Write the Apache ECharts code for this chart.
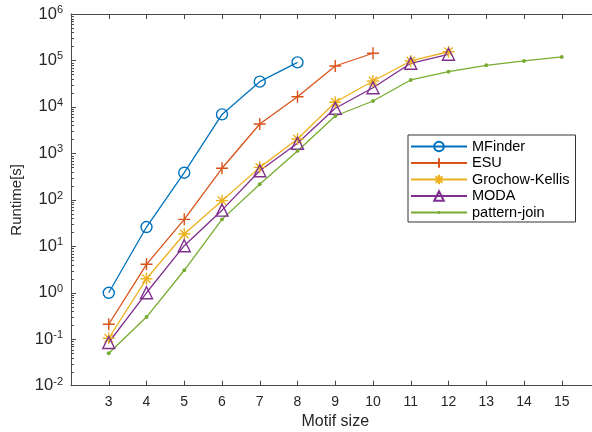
<!DOCTYPE html>
<html>
<head>
<meta charset="utf-8">
<script src="https://cdn.jsdelivr.net/npm/echarts@6/dist/echarts.min.js"></script>
<style>html,body{margin:0;padding:0;background:#fff;}#c{width:592px;height:432px;}</style>
</head>
<body>
<div id="c"></div>
<script>
const motifSizes = [3,4,5,6,7,8,9,10,11,12,13,14,15];
const mfinder = [1, 26, 384, 6900, 35000, 91000];
const esu = [0.21, 4.1, 38, 478, 4300, 16600, 76000, 143000];
const grochowKellis = [0.105, 2.0, 18.4, 96, 500, 2040, 12600, 36200, 97500, 154000];
const moda = [0.085, 1.0, 10.3, 60, 424, 1650, 9350, 25900, 87000, 136000];
const patternJoin = [0.05, 0.3, 3.05, 38, 216, 1130, 6380, 13400, 38000, 57400, 78700, 97500, 119000];
const seriesNames = ['MFinder','ESU','Grochow-Kellis','MODA','pattern-join'];
const xTickLabels = ['3','4','5','6','7','8','9','10','11','12','13','14','15'];
const yDecades = [-2,-1,0,1,2,3,4,5];
const minorSteps = [2,3,4,5,6,7,8,9];

const colors = ['#0072BD','#D95319','#EDB120','#7E2F8E','#77AC30'];
const axisColor = '#4a4a4a';
const textColor = '#262626';
const FONT = 'Liberation Sans, Arial, sans-serif';

function pairs(vals){ return vals.map((v,i)=>[motifSizes[i], v]); }
const minorTickValues = [];
yDecades.forEach(d => minorSteps.forEach(k => minorTickValues.push(k * Math.pow(10, d))));

const plusPath = 'path://M0,5L10,5M5,0L5,10';
const starPath = 'path://M0,5L10,5M5,0L5,10M1.5,1.5L8.5,8.5M1.5,8.5L8.5,1.5';
const dotPath = 'path://M0,0M10,10M3.5,5A1.5,1.5,0,1,0,6.5,5A1.5,1.5,0,1,0,3.5,5Z';

function mkSeries(name, vals, color, symbol, size, filled){
  return {
    name: name, type: 'line', data: pairs(vals),
    symbol: symbol, symbolSize: size, showAllSymbol: true,
    lineStyle: {color: color, width: 1.3},
    itemStyle: filled ? {color: color, borderWidth: 0} : {color: 'rgba(0,0,0,0)', borderColor: color, borderWidth: 1.4},
    emphasis: {disabled: true},
    z: 3
  };
}

const chart = echarts.init(document.getElementById('c'), null, {renderer: 'canvas'});
chart.setOption({
  animation: false,
  backgroundColor: '#fff',
  color: colors,
  grid: {left: 71, top: 14, right: -7.5, bottom: 46.3, outerBoundsMode: 'none', containLabel: false},
  legend: {
    orient: 'vertical', left: 408, top: 135,
    data: seriesNames,
    backgroundColor: '#fff', borderColor: '#333', borderWidth: 1,
    padding: [4, 6, 2, 2], itemGap: 1.5, itemWidth: 56, itemHeight: 12,
    textStyle: {fontFamily: FONT, fontSize: 14.5, color: '#000', lineHeight: 14, padding: [0,0,0,0]},
    selectedMode: false
  },
  xAxis: [{
    type: 'value', min: 2, max: 16, interval: 1, position: 'bottom',
    name: 'Motif size', nameLocation: 'middle', nameGap: 24,
    nameTextStyle: {fontFamily: FONT, fontSize: 16, color: textColor, verticalAlign: 'top'},
    axisLine: {show: true, onZero: false, lineStyle: {color: axisColor, width: 1}},
    axisTick: {show: true, inside: true, length: 5, lineStyle: {color: axisColor}},
    axisLabel: {margin: 9, fontFamily: FONT, fontSize: 14, color: textColor,
      formatter: v => { const i = motifSizes.indexOf(v); return i >= 0 ? xTickLabels[i] : ''; }},
    splitLine: {show: false}
  },{
    type: 'value', min: 2, max: 16, interval: 1, position: 'top',
    axisLine: {show: true, onZero: false, lineStyle: {color: axisColor, width: 1}},
    axisTick: {show: true, inside: true, length: 5, lineStyle: {color: axisColor}},
    axisLabel: {show: false}, splitLine: {show: false}
  }],
  yAxis: {
    type: 'log', logBase: 10, min: 0.01, max: 1e6,
    name: 'Runtime[s]', nameLocation: 'middle', nameGap: 46, nameRotate: 90,
    nameTextStyle: {fontFamily: FONT, fontSize: 15, color: textColor},
    axisLine: {show: true, onZero: false, lineStyle: {color: axisColor, width: 1}},
    axisTick: {show: true, inside: true, length: 5, lineStyle: {color: axisColor}},
    axisLabel: {margin: 8, fontFamily: FONT, fontSize: 16.5, color: textColor,
      formatter: v => '10{sup|' + Math.round(Math.log10(v)) + '}',
      rich: {sup: {fontSize: 11, verticalAlign: 'top', padding: [0,0,8,0], fontFamily: FONT, color: textColor}}},
    splitLine: {show: false}
  },
  series: [
    mkSeries('MFinder', mfinder, colors[0], 'circle', 11, false),
    mkSeries('ESU', esu, colors[1], plusPath, 12, false),
    mkSeries('Grochow-Kellis', grochowKellis, colors[2], starPath, 12, false),
    mkSeries('MODA', moda, colors[3], 'triangle', 12, false),
    mkSeries('pattern-join', patternJoin, colors[4], dotPath, 13, true)
  ]
});

// log-scale minor ticks on the left axis, positioned through the axis scale
const axisX = chart.convertToPixel({xAxisIndex: 0}, 2);
const minorTickGraphics = minorTickValues.map(v => {
  const y = Math.round(chart.convertToPixel({yAxisIndex: 0}, v)) + 0.5;
  return {type: 'line', silent: true, z: 10,
    shape: {x1: axisX, y1: y, x2: axisX + 3, y2: y},
    style: {stroke: axisColor, lineWidth: 1}};
});
chart.setOption({graphic: {elements: minorTickGraphics}});
</script>
</body>
</html>
